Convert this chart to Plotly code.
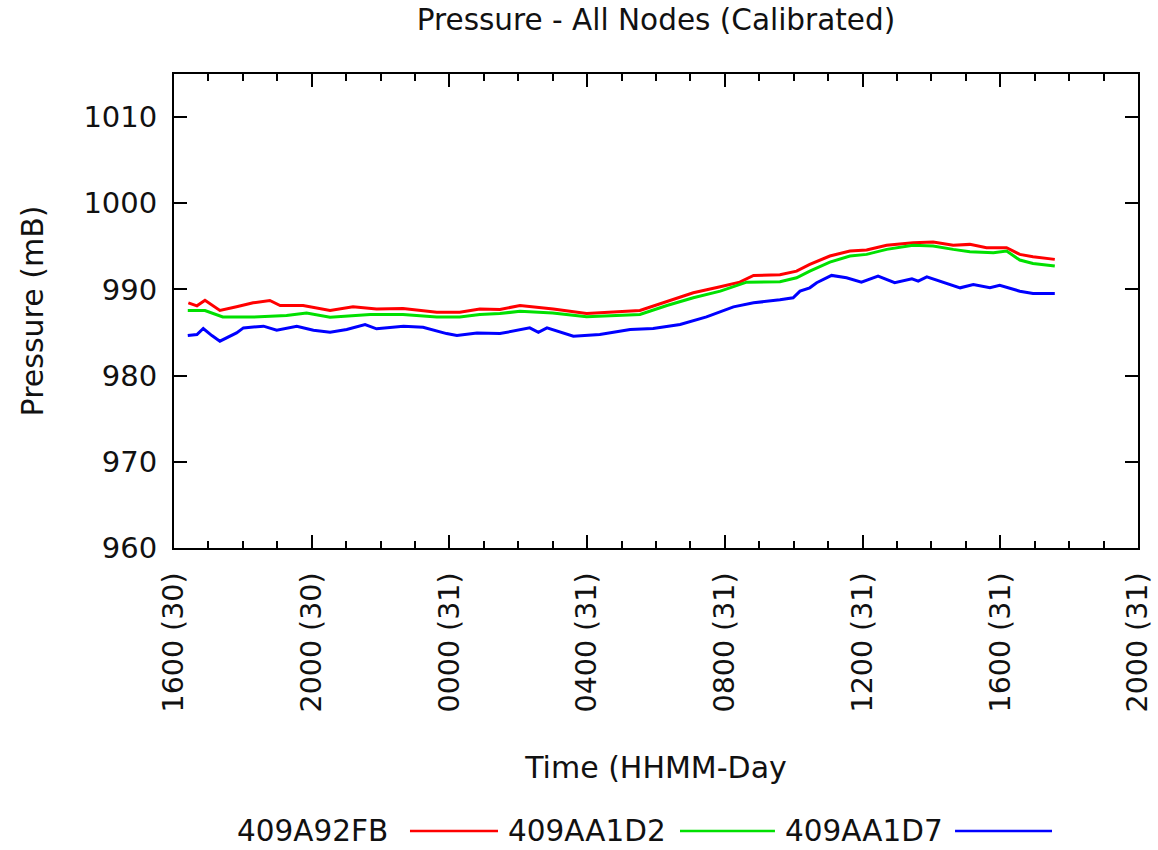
import plotly.graph_objects as go

D30 = "2013-05-30 "
D31 = "2013-05-31 "

names = ["409A92FB", "409AA1D2", "409AA1D7"]
colors = ["#ff0000", "#00e000", "#0000ff"]

t_red = [D30 + s for s in ["16:25", "16:40", "16:54", "17:20", "17:49", "18:18", "18:47", "19:05", "19:45",
                            "20:32", "21:12", "21:53", "22:39", "23:38"]] + \
        [D31 + s for s in ["00:18", "00:53", "01:28", "02:03", "03:01", "03:59", "05:32", "06:19", "07:05",
                            "07:52", "08:26", "08:50", "09:36", "10:05", "10:28", "11:03", "11:38", "12:07",
                            "12:42", "13:28", "14:03", "14:38", "15:07", "15:36", "16:11", "16:34", "16:57",
                            "17:35"]]
v_red = [988.45, 988.1, 988.75, 987.56, 988.0, 988.45, 988.72, 988.14, 988.14,
         987.56, 988.0, 987.74, 987.8, 987.36,
         987.36, 987.74, 987.67, 988.14, 987.74, 987.2, 987.56, 988.64, 989.61,
         990.31, 990.85, 991.63, 991.7, 992.13, 992.9, 993.88, 994.46, 994.57,
         995.12, 995.43, 995.5, 995.12, 995.23, 994.85, 994.85, 994.07, 993.8,
         993.49]

t_green = [D30 + s for s in ["16:24", "16:54", "17:25", "18:18", "19:16", "19:51", "20:32", "21:42", "22:39",
                              "23:38"]] + \
          [D31 + s for s in ["00:18", "00:53", "01:28", "02:03", "03:00", "03:59", "05:32", "06:19", "07:05",
                              "07:52", "08:38", "09:36", "10:05", "10:28", "11:03", "11:38", "12:07", "12:42",
                              "13:28", "14:03", "14:38", "15:07", "15:48", "16:11", "16:34", "16:57", "17:35"]]
v_green = [987.56, 987.56, 986.8, 986.8, 986.98, 987.28, 986.78, 987.1, 987.1,
           986.8,
           986.8, 987.1, 987.2, 987.48, 987.28, 986.82, 987.1, 988.14, 989.03,
           989.8, 990.85, 990.9, 991.35, 992.13, 993.17, 993.88, 994.07, 994.65,
           995.12, 995.04, 994.65, 994.38, 994.26, 994.46, 993.41, 993.02, 992.71]

t_blue = [D30 + s for s in ["16:24", "16:40", "16:51", "17:06", "17:20", "17:49", "18:01", "18:36", "18:59",
                             "19:34", "20:03", "20:32", "21:01", "21:33", "21:53", "22:40", "23:14", "23:55"]] + \
         [D31 + s for s in ["00:13", "00:48", "01:28", "01:51", "02:20", "02:35", "02:50", "03:36", "04:22",
                             "05:15", "05:55", "06:42", "07:28", "08:15", "08:50", "09:36", "09:59", "10:11",
                             "10:28", "10:40", "11:06", "11:32", "11:58", "12:27", "12:56", "13:26", "13:37",
                             "13:52", "14:21", "14:50", "15:13", "15:42", "15:59", "16:34", "16:57", "17:35"]]
v_blue = [984.65, 984.77, 985.47, 984.65, 984.0, 984.96, 985.54, 985.74, 985.27,
          985.74, 985.27, 985.03, 985.35, 985.93, 985.43, 985.74, 985.62, 984.88,
          984.65, 984.96, 984.88, 985.15, 985.54, 985.03, 985.54, 984.57, 984.77,
          985.35, 985.47, 985.93, 986.82, 987.98, 988.45, 988.8, 989.03, 989.8,
          990.19, 990.78, 991.63, 991.35, 990.85, 991.55, 990.78, 991.24, 990.97,
          991.47, 990.85, 990.19, 990.58, 990.19, 990.47, 989.8, 989.53, 989.53]

x_range = [D30 + "16:00", D31 + "20:00"]
y_range = [960, 1015]
y_ticks = [960, 970, 980, 990, 1000, 1010]

FONT = "DejaVu Sans"
TXT = "#111"

fig = go.Figure()
for n, c, t, v in zip(names, colors, [t_red, t_green, t_blue], [v_red, v_green, v_blue]):
    fig.add_trace(go.Scatter(x=t, y=v, mode="lines", name=n, line=dict(color=c, width=3),
                             showlegend=False))

# custom legend: text then line sample (gnuplot style)
leg_y = -0.597
text_right = [0.224, 0.5124, 0.7998]
line_seg = [(0.2448, 0.3361), (0.5249, 0.6234), (0.8102, 0.9108)]
for n, c, xr, (x0, x1) in zip(names, colors, text_right, line_seg):
    fig.add_annotation(text=n, x=xr, y=leg_y, xref="paper", yref="paper", xanchor="right",
                       yanchor="middle", showarrow=False, font=dict(family=FONT, size=29.5, color=TXT))
    fig.add_shape(type="line", x0=x0, x1=x1, y0=leg_y, y1=leg_y, xref="paper", yref="paper",
                  line=dict(color=c, width=2.5))

fig.update_layout(
    width=1158, height=850,
    margin=dict(l=174, r=20, t=74, b=302),
    paper_bgcolor="white", plot_bgcolor="white",
    font=dict(family=FONT, size=29, color=TXT),
    title=dict(text="Pressure - All Nodes (Calibrated)", x=0.5, xref="paper", xanchor="center",
               y=1 - 20 / 850, yref="container", yanchor="middle", font=dict(size=29.5)),
)
fig.update_xaxes(
    type="date", range=x_range, dtick=4 * 3600 * 1000, tick0=D30 + "16:00",
    tickformat="%H%M (%d)", tickangle=-90, ticks="inside", ticklen=13, tickwidth=2,
    tickcolor="#000", showline=True, linecolor="#000", linewidth=2, mirror="ticks",
    showgrid=False, zeroline=False, ticklabelstandoff=11, automargin=False,
    tickfont=dict(size=28.5),
    minor=dict(dtick=3600 * 1000, ticks="inside", ticklen=7, tickwidth=2, tickcolor="#000", showgrid=False),
    title=dict(text="Time (HHMM-Day", standoff=46, font=dict(size=30)),
)
fig.update_yaxes(
    range=y_range, tickvals=y_ticks, ticks="inside", ticklen=13, tickwidth=2, tickcolor="#000",
    showline=True, linecolor="#000", linewidth=2, mirror="ticks", showgrid=False, zeroline=False,
    ticklabelstandoff=9, automargin=False, tickfont=dict(size=29),
    title=dict(text="Pressure (mB)", standoff=31, font=dict(size=30)),
)

fig.write_html("out.html")
